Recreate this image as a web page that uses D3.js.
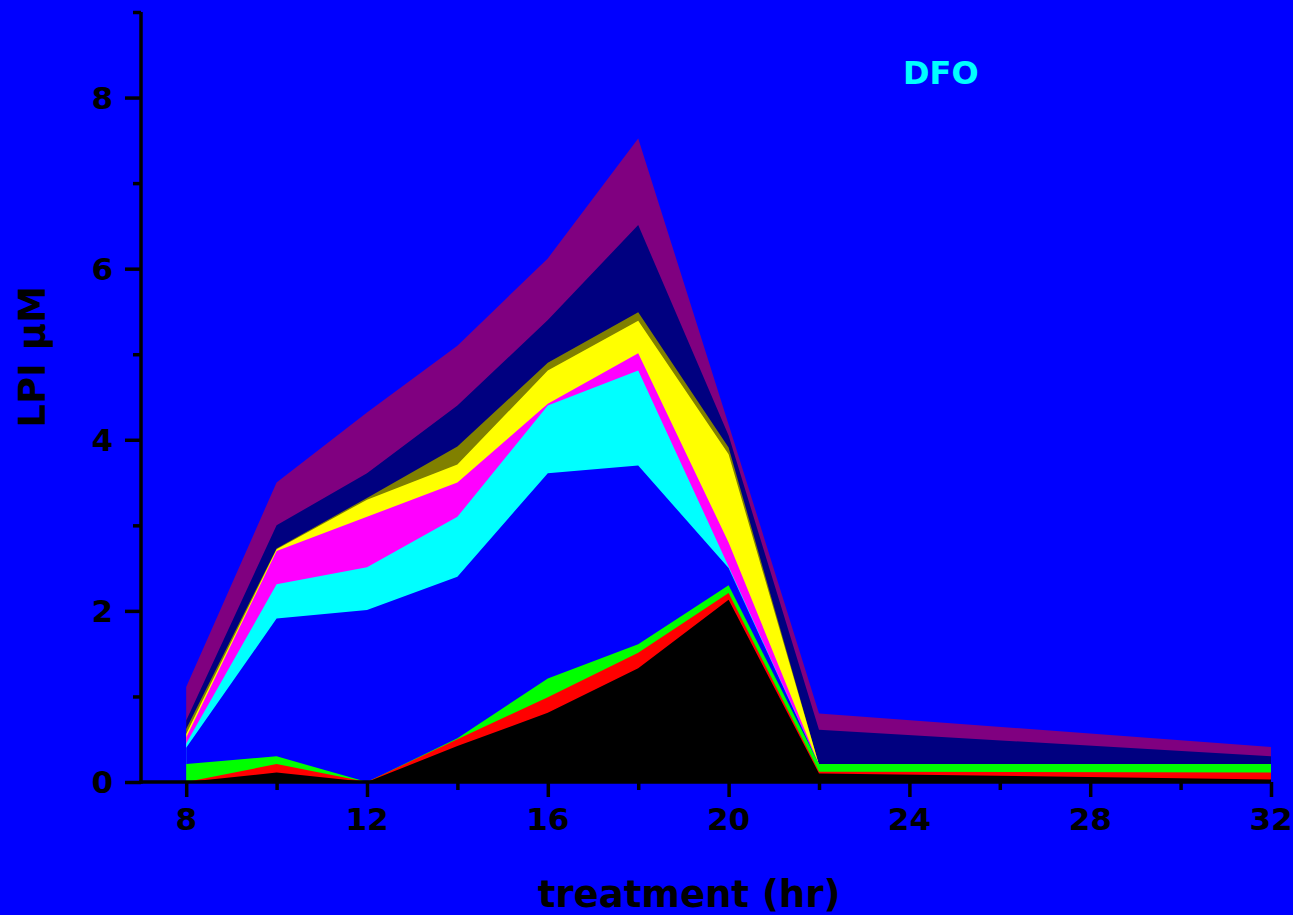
<!DOCTYPE html>
<html>
<head>
<meta charset="utf-8">
<script src="https://cdn.jsdelivr.net/npm/d3@7"></script>
<style>
  html, body { margin: 0; padding: 0; background: #0000FF; overflow: hidden; }
  svg { display: block; }
  text { font-family: "DejaVu Sans", "Open Sans", sans-serif; font-weight: bold; }
</style>
</head>
<body>
<svg id="chart" width="1293" height="915"></svg>
<script>
// Treatment time points (hours)
const hours = [8, 10, 12, 14, 16, 18, 20, 22, 32];

// Upper edge of each LPI layer (µM), drawn back to front
const purpleTop  = [1.11, 3.50, 4.32, 5.10, 6.12, 7.52, 4.18, 0.80, 0.41];
const navyTop    = [0.72, 3.00, 3.61, 4.40, 5.40, 6.51, 4.05, 0.61, 0.30];
const oliveTop   = [0.62, 2.73, 3.32, 3.92, 4.90, 5.49, 3.91, 0.20, 0.20];
const yellowTop  = [0.56, 2.72, 3.30, 3.71, 4.81, 5.39, 3.83, 0.20, 0.20];
const magentaTop = [0.52, 2.70, 3.10, 3.50, 4.42, 5.01, 2.80, 0.20, 0.20];
const cyanTop    = [0.45, 2.31, 2.51, 3.10, 4.40, 4.81, 2.52, 0.20, 0.20];
const blueTop    = [0.40, 1.91, 2.01, 2.40, 3.61, 3.70, 2.50, 0.20, 0.20];
const greenTop   = [0.21, 0.30, 0.00, 0.51, 1.21, 1.61, 2.30, 0.21, 0.21];
const redTop     = [0.00, 0.21, 0.00, 0.50, 0.99, 1.51, 2.21, 0.12, 0.11];
const blackTop   = [0.00, 0.11, 0.00, 0.42, 0.81, 1.33, 2.13, 0.10, 0.03];

const layerColors = ["#800080", "#000080", "#808000", "#FFFF00", "#FF00FF",
                     "#00FFFF", "#0000FF", "#00FF00", "#FF0000", "#000000"];
const layers = [purpleTop, navyTop, oliveTop, yellowTop, magentaTop,
                cyanTop, blueTop, greenTop, redTop, blackTop];

// Axis ticks
const xMajor = [8, 12, 16, 20, 24, 28, 32];
const xMinor = [10, 14, 18, 22, 26, 30];
const yMajor = [0, 2, 4, 6, 8];
const yMinor = [1, 3, 5, 7, 9];

const svg = d3.select("#chart");
svg.append("rect").attr("width", 1293).attr("height", 915).attr("fill", "#0000FF");

const x = d3.scaleLinear().domain([7, 32]).range([141, 1271]);
const y = d3.scaleLinear().domain([0, 9]).range([782, 12]);

const area = d3.area()
  .x((d, i) => x(hours[i]))
  .y0(y(0))
  .y1(d => y(d));

svg.append("g").selectAll("path")
  .data(layers)
  .join("path")
  .attr("d", d => area(d))
  .attr("fill", (d, i) => layerColors[i]);

// Axes
const axisW = 3.5;
function styleAxis(g) {
  g.select(".domain").remove();
  g.selectAll("line").attr("stroke", "#000").attr("stroke-width", axisW);
  g.selectAll("text").remove();
}

const gx = svg.append("g").attr("transform", `translate(0,${y(0)})`);
gx.append("g").call(d3.axisBottom(x).tickValues(xMajor).tickSizeInner(15).tickSizeOuter(0)).call(styleAxis);
gx.append("g").call(d3.axisBottom(x).tickValues(xMinor).tickSizeInner(8).tickSizeOuter(0)).call(styleAxis);
gx.append("line").attr("x1", x(7) - 1.75).attr("x2", x(32)).attr("stroke", "#000").attr("stroke-width", axisW);

const gy = svg.append("g").attr("transform", `translate(${x(7)},0)`);
gy.append("g").call(d3.axisLeft(y).tickValues(yMajor).tickSizeInner(16).tickSizeOuter(0)).call(styleAxis);
gy.append("g").call(d3.axisLeft(y).tickValues(yMinor).tickSizeInner(8).tickSizeOuter(0)).call(styleAxis);
gy.append("line").attr("y1", y(9)).attr("y2", y(0) + 1.75).attr("stroke", "#000").attr("stroke-width", axisW);

// Tick labels
svg.append("g").selectAll("text")
  .data(xMajor)
  .join("text")
  .attr("x", d => x(d))
  .attr("y", 830)
  .attr("text-anchor", "middle")
  .attr("font-size", 31)
  .attr("fill", "#000")
  .text(d => d);

svg.append("g").selectAll("text")
  .data(yMajor)
  .join("text")
  .attr("x", 113)
  .attr("y", d => y(d) + 11)
  .attr("text-anchor", "end")
  .attr("font-size", 31)
  .attr("fill", "#000")
  .text(d => d);

// Axis titles
svg.append("text")
  .attr("x", 689)
  .attr("y", 907)
  .attr("text-anchor", "middle")
  .attr("font-size", 37)
  .attr("fill", "#000")
  .text("treatment (hr)");

svg.append("text")
  .attr("transform", "translate(45,357) rotate(-90)")
  .attr("text-anchor", "middle")
  .attr("font-size", 37)
  .attr("fill", "#000")
  .text("LPI µM");

// Treatment label
svg.append("text")
  .attr("x", 903)
  .attr("y", 84)
  .attr("font-size", 32)
  .attr("fill", "#00FFFF")
  .text("DFO");
</script>
</body>
</html>
